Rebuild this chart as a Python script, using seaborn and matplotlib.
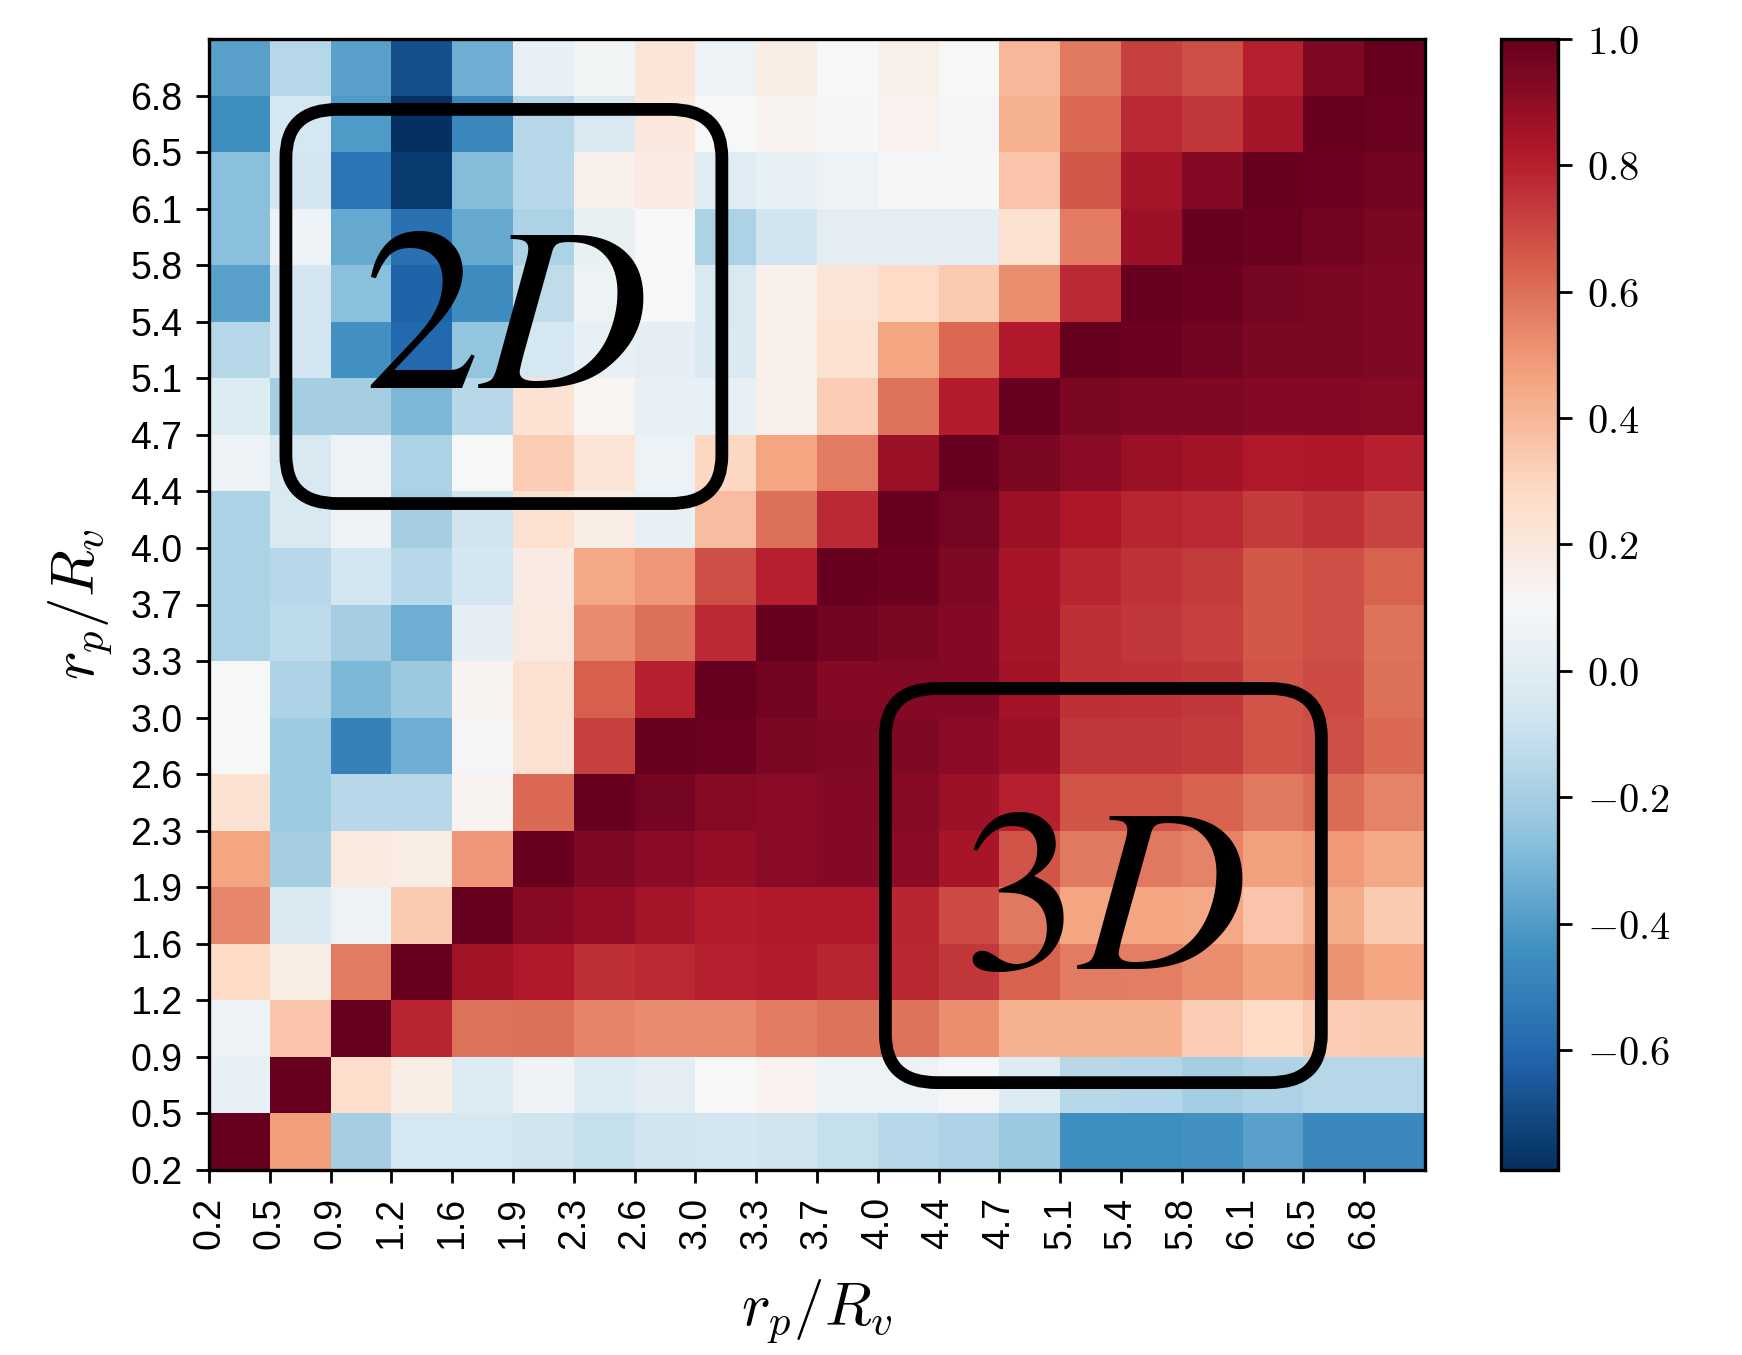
import numpy as np
import pandas as pd
import matplotlib
matplotlib.use("Agg")
import matplotlib.pyplot as plt
from matplotlib.patches import FancyBboxPatch
from matplotlib.ticker import FuncFormatter
import seaborn as sns

# Bin edges of r_p / R_v (labels sit on the lower/left edge of each cell)
edge_labels = ["0.2", "0.5", "0.9", "1.2", "1.6", "1.9", "2.3", "2.6", "3.0", "3.3",
               "3.7", "4.0", "4.4", "4.7", "5.1", "5.4", "5.8", "6.1", "6.5", "6.8"]

# Correlation coefficients, one list per radial bin (bottom row first)
row_00 = [1.00, 0.48, -0.20, -0.05, -0.05, -0.07, -0.11, -0.07, -0.06, -0.07, -0.11, -0.15, -0.17, -0.23, -0.45, -0.45, -0.44, -0.38, -0.47, -0.47]
row_01 = [0.03, 1.00, 0.27, 0.17, -0.02, 0.07, -0.02, 0.01, 0.10, 0.14, 0.05, 0.05, 0.09, -0.02, -0.14, -0.16, -0.20, -0.17, -0.15, -0.15]
row_02 = [0.05, 0.36, 1.00, 0.79, 0.59, 0.60, 0.55, 0.53, 0.53, 0.57, 0.59, 0.59, 0.52, 0.42, 0.42, 0.42, 0.33, 0.28, 0.33, 0.34]
row_03 = [0.28, 0.17, 0.57, 1.00, 0.86, 0.82, 0.76, 0.77, 0.80, 0.81, 0.79, 0.78, 0.74, 0.63, 0.57, 0.56, 0.52, 0.47, 0.51, 0.46]
row_04 = [0.54, -0.03, 0.05, 0.34, 1.00, 0.92, 0.89, 0.85, 0.81, 0.82, 0.82, 0.79, 0.69, 0.58, 0.46, 0.46, 0.45, 0.36, 0.44, 0.34]
row_05 = [0.46, -0.20, 0.19, 0.17, 0.50, 1.00, 0.94, 0.91, 0.89, 0.91, 0.93, 0.91, 0.84, 0.67, 0.58, 0.58, 0.55, 0.47, 0.49, 0.45]
row_06 = [0.24, -0.22, -0.14, -0.14, 0.13, 0.62, 1.00, 0.96, 0.92, 0.91, 0.93, 0.92, 0.87, 0.80, 0.67, 0.67, 0.63, 0.58, 0.61, 0.55]
row_07 = [0.10, -0.22, -0.50, -0.33, 0.09, 0.24, 0.72, 1.00, 0.99, 0.95, 0.94, 0.94, 0.91, 0.87, 0.74, 0.74, 0.73, 0.67, 0.68, 0.62]
row_08 = [0.10, -0.17, -0.30, -0.23, 0.13, 0.25, 0.64, 0.80, 1.00, 0.97, 0.93, 0.93, 0.93, 0.86, 0.76, 0.75, 0.74, 0.67, 0.69, 0.60]
row_09 = [-0.18, -0.13, -0.20, -0.33, 0.02, 0.19, 0.53, 0.60, 0.77, 1.00, 0.97, 0.95, 0.93, 0.85, 0.76, 0.74, 0.72, 0.66, 0.68, 0.59]
row_10 = [-0.18, -0.14, -0.06, -0.14, -0.06, 0.18, 0.45, 0.50, 0.68, 0.80, 1.00, 0.98, 0.94, 0.84, 0.79, 0.75, 0.73, 0.66, 0.68, 0.63]
row_11 = [-0.18, -0.04, 0.05, -0.20, -0.07, 0.25, 0.17, 0.03, 0.38, 0.60, 0.77, 1.00, 0.96, 0.88, 0.83, 0.79, 0.77, 0.73, 0.75, 0.71]
row_12 = [0.05, -0.04, 0.05, -0.18, 0.10, 0.33, 0.23, 0.05, 0.30, 0.46, 0.57, 0.88, 1.00, 0.95, 0.91, 0.88, 0.86, 0.82, 0.83, 0.80]
row_13 = [-0.02, -0.20, -0.20, -0.30, -0.14, 0.24, 0.12, 0.03, 0.03, 0.16, 0.33, 0.59, 0.81, 1.00, 0.95, 0.94, 0.94, 0.93, 0.93, 0.92]
row_14 = [-0.15, -0.06, -0.44, -0.60, -0.25, -0.05, 0.03, 0.02, -0.03, 0.15, 0.25, 0.46, 0.62, 0.82, 1.00, 0.98, 0.97, 0.95, 0.95, 0.94]
row_15 = [-0.38, -0.06, -0.27, -0.62, -0.46, -0.12, 0.06, 0.10, -0.04, 0.15, 0.23, 0.28, 0.34, 0.52, 0.77, 1.00, 0.98, 0.96, 0.95, 0.94]
row_16 = [-0.27, 0.05, -0.35, -0.56, -0.35, -0.18, 0.04, 0.10, -0.18, -0.07, 0.01, 0.01, 0.01, 0.25, 0.57, 0.87, 1.00, 0.99, 0.97, 0.95]
row_17 = [-0.27, -0.06, -0.55, -0.75, -0.28, -0.15, 0.15, 0.18, 0.00, 0.03, 0.05, 0.09, 0.11, 0.36, 0.66, 0.85, 0.93, 1.00, 0.98, 0.97]
row_18 = [-0.45, -0.05, -0.40, -0.79, -0.48, -0.15, -0.03, 0.20, 0.10, 0.13, 0.11, 0.14, 0.09, 0.42, 0.62, 0.77, 0.74, 0.85, 1.00, 0.99]
row_19 = [-0.38, -0.15, -0.38, -0.68, -0.33, 0.03, 0.08, 0.22, 0.05, 0.17, 0.10, 0.16, 0.10, 0.40, 0.58, 0.72, 0.68, 0.80, 0.94, 1.00]

rows = [row_00, row_01, row_02, row_03, row_04, row_05, row_06, row_07, row_08, row_09,
        row_10, row_11, row_12, row_13, row_14, row_15, row_16, row_17, row_18, row_19]
corr = pd.DataFrame(rows, index=edge_labels, columns=edge_labels)

plt.rcParams["mathtext.fontset"] = "cm"
plt.rcParams["font.family"] = ["Liberation Sans", "DejaVu Sans"]

fig = plt.figure(figsize=(1742 / 200, 1355 / 200), dpi=200)
ax = fig.add_axes([209 / 1742, 1 - 1170 / 1355, (1425 - 209) / 1742, (1170 - 39) / 1355])
cax = fig.add_axes([1501 / 1742, 1 - 1170 / 1355, 57 / 1742, (1170 - 39) / 1355])

sns.heatmap(corr, cmap="RdBu_r", ax=ax, cbar_ax=cax,
            xticklabels=False, yticklabels=False, square=False)
ax.invert_yaxis()

n = len(edge_labels)
ax.set_xticks(np.arange(n))
ax.set_xticklabels(edge_labels, rotation=90, fontsize=13.5)
ax.set_yticks(np.arange(n))
ax.set_yticklabels(edge_labels, rotation=0, fontsize=13.5)
ax.tick_params(axis="both", direction="out", length=4.6, width=1.0, color="black", pad=5)
for sp in ax.spines.values():
    sp.set_visible(True)
    sp.set_color("black")
    sp.set_linewidth(1.2)

ax.set_xlabel(r"$r_p/R_v$", fontsize=22, labelpad=10)
ax.set_ylabel(r"$r_p/R_v$", fontsize=22, labelpad=6)

# Colorbar with serif (Computer Modern) ticks
cbar = ax.collections[0].colorbar
cbar.set_ticks([-0.6, -0.4, -0.2, 0.0, 0.2, 0.4, 0.6, 0.8, 1.0])
cbar.ax.yaxis.set_major_formatter(FuncFormatter(lambda v, p: r"$%.1f$" % v))
cbar.ax.tick_params(labelsize=14.5, length=5, width=1.0, color="black", pad=5.5)
cbar.outline.set_visible(True)
cbar.outline.set_edgecolor("black")
cbar.outline.set_linewidth(1.2)

# Rounded frames marking the two regimes
def regime_box(cx, cy, baseline, label):
    w, h = 7.17, 6.97
    box = FancyBboxPatch((cx - w / 2, cy - h / 2), w, h,
                         boxstyle="round,pad=0,rounding_size=0.85",
                         facecolor="none", edgecolor="black", linewidth=4.6,
                         zorder=5)
    ax.add_patch(box)
    ax.text(cx, baseline, label, fontsize=84, ha="center", va="baseline",
            math_fontfamily="stix", zorder=6)

regime_box(4.85, 15.27, 13.83, r"$2D$")
regime_box(14.71, 5.03, 3.55, r"$3D$")

fig.savefig("out.png", dpi=200)
